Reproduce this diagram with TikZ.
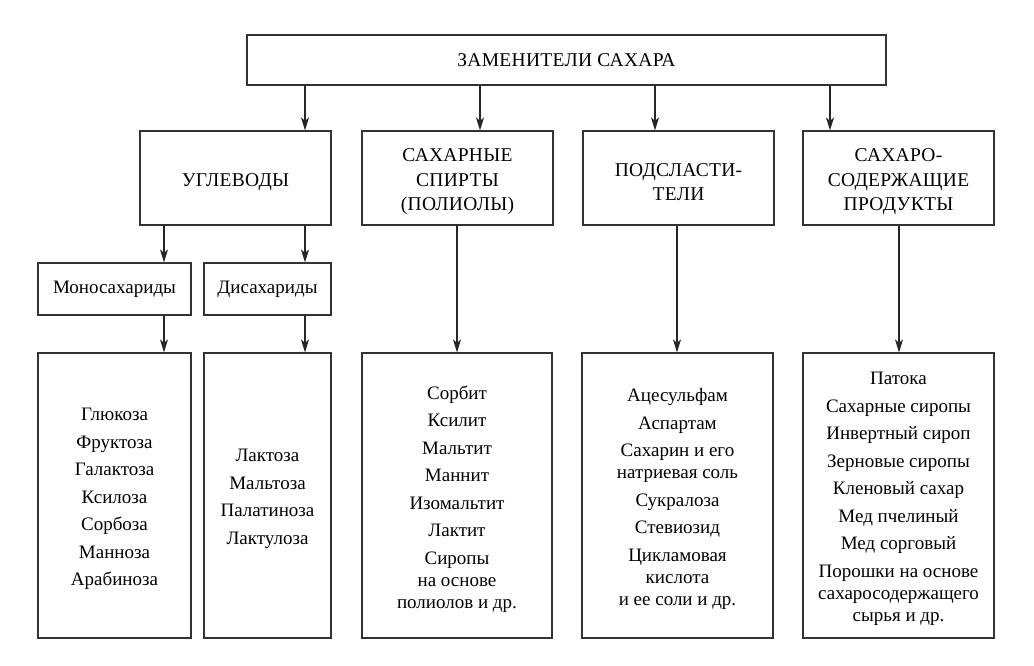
\documentclass[tikz,border=0pt]{standalone}
\usepackage{fontspec}
\setmainfont{Liberation Serif}
\usetikzlibrary{arrows.meta}
\begin{document}
\begin{tikzpicture}[x=1pt,y=-1pt,>={Stealth[length=13pt,width=8pt,inset=3.5pt]},
  box/.style={draw=black!80,line width=1.2pt,inner sep=0pt,align=center},
  capt/.style={align=center,yshift=-4pt,font=\fontsize{19.5}{24.5}\selectfont\addfontfeature{LetterSpace=1.5}},
  litem/.style={align=center,yshift=-3.5pt,font=\fontsize{19}{22}\selectfont},
  head/.style={box,minimum width=191pt,minimum height=94pt,label={[capt]center:#1}},
  sub/.style={box,minimum height=52pt,font=\fontsize{19}{22}\selectfont},
  list/.style={box,minimum height=285pt,label={[litem]center:#1}},
  arr/.style={->,line width=1.1pt,black!85}]
\useasboundingbox (0,0) rectangle (1034,665);
% top
\node[box,minimum width=639pt,minimum height=50pt,label={[capt,yshift=4pt]center:ЗАМЕНИТЕЛИ САХАРА}] (zam) at (566.5,60) {};
% groups
\node[head={УГЛЕВОДЫ}] (ugl) at (235.5,178) {};
\node[head={САХАРНЫЕ\\СПИРТЫ\\(ПОЛИОЛЫ)}] (spirt) at (457.5,178) {};
\node[head={ПОДСЛАСТИ-\\ТЕЛИ}] (podsl) at (678.5,178) {};
\node[head={САХАРО-\\СОДЕРЖАЩИЕ\\ПРОДУКТЫ}] (prod) at (898.5,178) {};
\node[sub,minimum width=153pt] (mono) at (114.5,289) {Моносахариды};
\node[sub,minimum width=127pt] (disa) at (267.5,289) {Дисахариды};
% lists
\node[list={Глюкоза\\[5.5pt]Фруктоза\\[5.5pt]Галактоза\\[5.5pt]Ксилоза\\[5.5pt]Сорбоза\\[5.5pt]Манноза\\[5.5pt]Арабиноза},minimum width=153pt] (lmono) at (114.5,495.5) {};
\node[list={Лактоза\\[5.5pt]Мальтоза\\[5.5pt]Палатиноза\\[5.5pt]Лактулоза},minimum width=127pt] (ldisa) at (267.5,495.5) {};
\node[list={Сорбит\\[5.5pt]Ксилит\\[5.5pt]Мальтит\\[5.5pt]Маннит\\[5.5pt]Изомальтит\\[5.5pt]Лактит\\[5.5pt]Сиропы\\на основе\\полиолов и др.},minimum width=190pt] (lspirt) at (457,495.5) {};
\node[list={Ацесульфам\\[5.5pt]Аспартам\\[5.5pt]Сахарин и его\\натриевая соль\\[5.5pt]Сукралоза\\[5.5pt]Стевиозид\\[5.5pt]Цикламовая\\кислота\\и ее соли и др.},minimum width=191pt] (lpodsl) at (677.5,495.5) {};
\node[list={Патока\\[5.5pt]Сахарные сиропы\\[5.5pt]Инвертный сироп\\[5.5pt]Зерновые сиропы\\[5.5pt]Кленовый сахар\\[5.5pt]Мед пчелиный\\[5.5pt]Мед сорговый\\[5.5pt]Порошки на основе\\сахаросодержащего\\сырья и др.},minimum width=191pt] (lprod) at (898.5,495.5) {};
% arrows
\coordinate (c1) at (305,0);
\coordinate (c2) at (480,0);
\coordinate (c3) at (655,0);
\coordinate (c4) at (830,0);
\coordinate (c5) at (164,0);
\coordinate (c6) at (457,0);
\coordinate (c7) at (677,0);
\coordinate (c8) at (899,0);
\draw[arr] (zam.south -| c1) -- (ugl.north -| c1);
\draw[arr] (zam.south -| c2) -- (spirt.north -| c2);
\draw[arr] (zam.south -| c3) -- (podsl.north -| c3);
\draw[arr] (zam.south -| c4) -- (prod.north -| c4);
\draw[arr] (ugl.south -| c5) -- (mono.north -| c5);
\draw[arr] (ugl.south -| c1) -- (disa.north -| c1);
\draw[arr] (mono.south -| c5) -- (lmono.north -| c5);
\draw[arr] (disa.south -| c1) -- (ldisa.north -| c1);
\draw[arr] (spirt.south -| c6) -- (lspirt.north -| c6);
\draw[arr] (podsl.south -| c7) -- (lpodsl.north -| c7);
\draw[arr] (prod.south -| c8) -- (lprod.north -| c8);
\end{tikzpicture}
\end{document}
